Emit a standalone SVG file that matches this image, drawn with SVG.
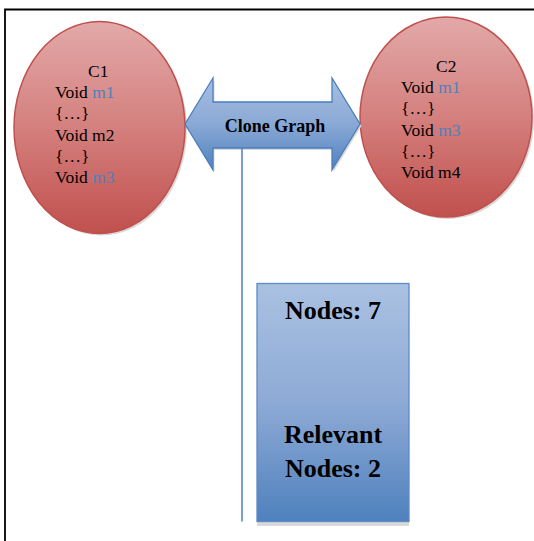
<svg xmlns="http://www.w3.org/2000/svg" width="534" height="541" viewBox="0 0 534 541">
<defs>
<linearGradient id="gRed" x1="0" y1="0" x2="0" y2="1">
<stop offset="0" stop-color="#e2a9a8"/>
<stop offset="0.5" stop-color="#d4807e"/>
<stop offset="1" stop-color="#c0504d"/>
</linearGradient>
<linearGradient id="gBlue" x1="0" y1="0" x2="0" y2="1">
<stop offset="0" stop-color="#a9c1e1"/>
<stop offset="0.5" stop-color="#8eaad6"/>
<stop offset="1" stop-color="#4f81bd"/>
</linearGradient>
<linearGradient id="gArrow" x1="0" y1="0" x2="0" y2="1">
<stop offset="0" stop-color="#a7c0e2"/>
<stop offset="0.5" stop-color="#8aa9d6"/>
<stop offset="1" stop-color="#4f81bd"/>
</linearGradient>
</defs>
<style>
.ell{fill:url(#gRed);stroke:#c0504d;stroke-width:1.5}
.shadow{fill:#d9d9d9}
.t{font-family:"Liberation Serif","Times New Roman",serif;font-size:17.5px;fill:#000}
.m{fill:#4f81bd}
.b{font-family:"Liberation Serif","Times New Roman",serif;font-weight:bold;fill:#000;text-anchor:middle}
.conn{stroke:#4f81bd;stroke-width:1.5;fill:none}
</style>
<path d="M5,541 V9.5 H534" fill="none" stroke="#000" stroke-width="1.8"/>
<g id="c1">
<ellipse class="shadow" cx="101.5" cy="129.5" rx="85.5" ry="106"/>
<ellipse class="ell" cx="99.5" cy="127.5" rx="85.5" ry="106"/>
<text class="t" x="88" y="77">C1</text>
<text class="t" x="55" y="98">Void <tspan class="m">m1</tspan></text>
<text class="t" x="55" y="119">{…}</text>
<text class="t" x="55" y="141">Void m2</text>
<text class="t" x="55" y="162">{…}</text>
<text class="t" x="55" y="183">Void <tspan class="m">m3</tspan></text>
</g>
<g id="c2">
<ellipse class="shadow" cx="448" cy="119" rx="86" ry="100"/>
<ellipse class="ell" cx="446" cy="117" rx="86" ry="100"/>
<text class="t" x="436" y="72">C2</text>
<text class="t" x="401" y="93">Void <tspan class="m">m1</tspan></text>
<text class="t" x="401" y="114">{…}</text>
<text class="t" x="401" y="135.5">Void <tspan class="m">m3</tspan></text>
<text class="t" x="401" y="157">{…}</text>
<text class="t" x="401" y="178">Void m4</text>
</g>
<g id="clone-graph">
<path class="shadow" d="M186.5,126 L214.5,80 V104 H333.5 V80 L361.5,126 L333.5,172 V150 H214.5 V172 Z"/>
<path d="M185,124 L213,78 V102 H332 V78 L360,124 L332,170 V148 H213 V170 Z" fill="url(#gArrow)" stroke="#4a7ebb" stroke-width="1.3"/>
<text class="b" x="275" y="131.5" font-size="18">Clone Graph</text>
</g>
<g id="connectors">
<line class="conn" x1="242" y1="148" x2="242" y2="521.5"/>
</g>
<g id="nodes-box">
<rect class="shadow" x="257" y="287" width="152" height="239"/>
<rect x="257" y="283.5" width="152" height="238" fill="url(#gBlue)" stroke="#5b8bc9" stroke-width="1.3"/>
<text class="b" x="333" y="318.5" font-size="26">Nodes: 7</text>
<text class="b" x="333" y="443" font-size="26">Relevant</text>
<text class="b" x="333" y="477" font-size="26">Nodes: 2</text>
</g>
</svg>
